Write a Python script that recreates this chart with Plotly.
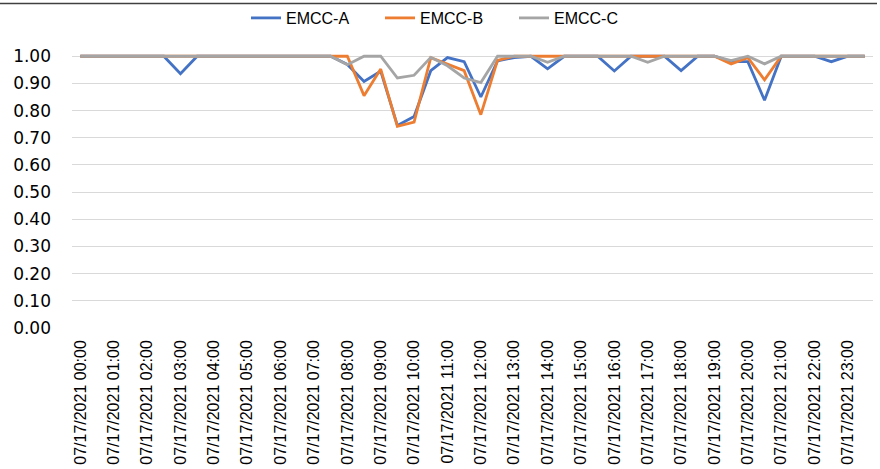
import plotly.graph_objects as go

# Half-hourly categories 07/17/2021 00:00 .. 23:30
times = [f"07/17/2021 {h:02d}:{m:02d}" for h in range(24) for m in (0, 30)]
hour_labels = [f"07/17/2021 {h:02d}:00" for h in range(24)]

emcc_a = [1.0, 1.0, 1.0, 1.0, 1.0, 1.0, 0.936, 1.0, 1.0, 1.0, 1.0, 1.0,
          1.0, 1.0, 1.0, 1.0, 0.97, 0.907, 0.945, 0.745, 0.778, 0.947, 0.995, 0.98,
          0.85, 0.983, 0.995, 1.0, 0.954, 1.0, 1.0, 1.0, 0.946, 1.0, 1.0, 1.0,
          0.947, 1.0, 1.0, 0.98, 0.98, 0.838, 1.0, 1.0, 1.0, 0.98, 1.0, 1.0]
emcc_b = [1.0, 1.0, 1.0, 1.0, 1.0, 1.0, 1.0, 1.0, 1.0, 1.0, 1.0, 1.0,
          1.0, 1.0, 1.0, 1.0, 1.0, 0.855, 0.953, 0.742, 0.758, 0.995, 0.97, 0.947,
          0.785, 0.985, 1.0, 1.0, 1.0, 1.0, 1.0, 1.0, 1.0, 1.0, 1.0, 1.0,
          1.0, 1.0, 1.0, 0.972, 0.995, 0.913, 1.0, 1.0, 1.0, 1.0, 1.0, 1.0]
emcc_c = [1.0, 1.0, 1.0, 1.0, 1.0, 1.0, 1.0, 1.0, 1.0, 1.0, 1.0, 1.0,
          1.0, 1.0, 1.0, 1.0, 0.969, 1.0, 1.0, 0.92, 0.93, 0.996, 0.965, 0.92,
          0.903, 1.0, 1.0, 1.0, 0.978, 1.0, 1.0, 1.0, 1.0, 1.0, 0.978, 1.0,
          1.0, 1.0, 1.0, 0.984, 1.0, 0.972, 1.0, 1.0, 1.0, 1.0, 1.0, 1.0]

series = [("EMCC-A", emcc_a, "#4472C4"),
          ("EMCC-B", emcc_b, "#ED7D31"),
          ("EMCC-C", emcc_c, "#A5A5A5")]

L, R, T, B = 72, 7, 53, 141
W, H = 880, 469
PW, PH = W - L - R, H - T - B

fig = go.Figure()
for name, vals, color in series:
    fig.add_trace(go.Scatter(x=times, y=vals, mode="lines", name=name,
                             line=dict(color=color, width=2.8)))

fig.update_layout(
    width=W, height=H,
    margin=dict(l=L, r=R, t=T, b=B, autoexpand=False),
    paper_bgcolor="white", plot_bgcolor="white",
    showlegend=True,
    legend=dict(orientation="h",
                x=(447 - L) / PW, xanchor="center",
                y=(H - B - 18) / PH, yanchor="middle",
                bgcolor="rgba(0,0,0,0)",
                font=dict(family="Liberation Sans", size=16, color="#000000"),
                itemwidth=30, entrywidth=89, entrywidthmode="pixels",
                tracegroupgap=0),
    shapes=[dict(type="line", xref="paper", yref="paper",
                 x0=-L / PW, x1=(877 - L) / PW,
                 y0=(H - B - 3.5) / PH, y1=(H - B - 3.5) / PH,
                 line=dict(color="#404040", width=1.6))],
)
fig.update_xaxes(type="category", categoryorder="array", categoryarray=times,
                 range=[-0.5, 47.5], tickmode="array", automargin=False,
                 tickvals=hour_labels, ticktext=hour_labels, tickangle=-90,
                 showgrid=False, showline=False, zeroline=False,
                 ticks="", ticklabelstandoff=8,
                 tickfont=dict(family="Liberation Sans", size=16, color="#000000"))
fig.update_yaxes(range=[0, 1.012], tickmode="array", automargin=False,
                 tickvals=[i / 10 for i in range(11)], tickformat=".2f",
                 showgrid=True, gridcolor="#D9D9D9", gridwidth=1,
                 zeroline=False, showline=False, ticks="",
                 ticklabelstandoff=20,
                 tickfont=dict(family="DejaVu Sans", size=17, color="#000000"))

fig.write_html("out.html", config={"displayModeBar": False},
               post_script="document.body.style.margin='0';"
                           "document.body.style.overflow='hidden';")
